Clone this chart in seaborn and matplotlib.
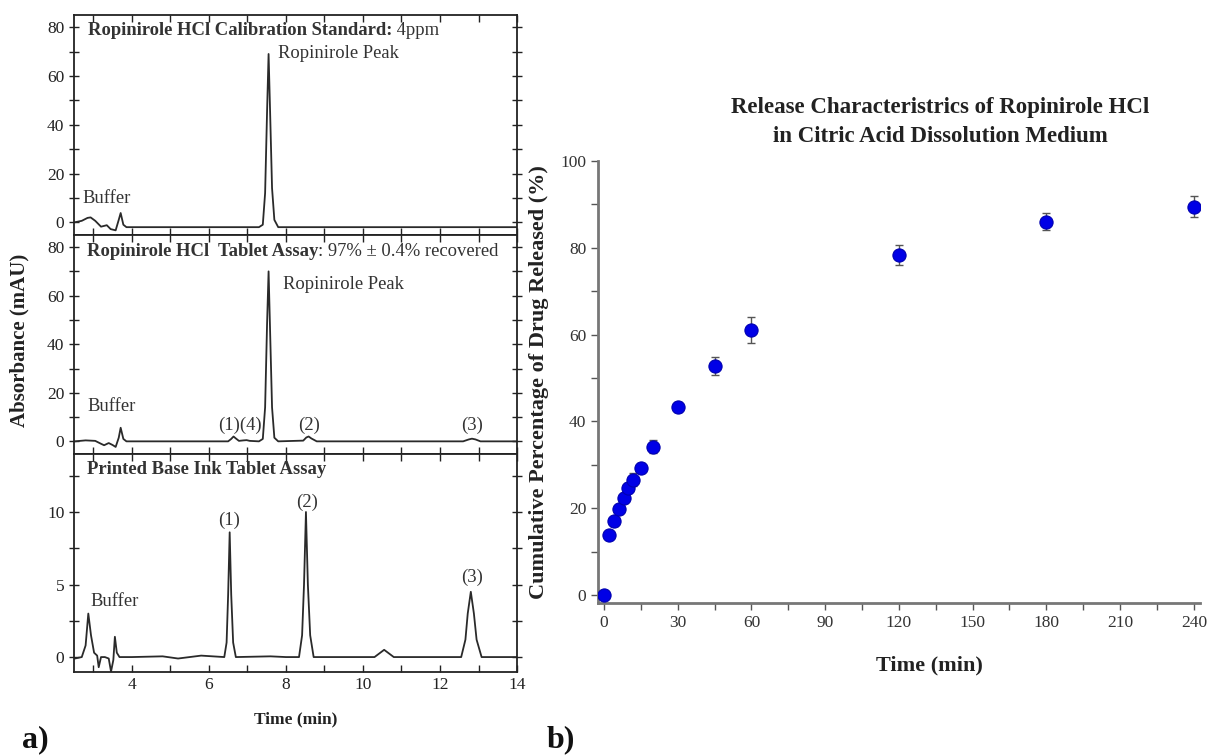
import numpy as np
import pandas as pd
import seaborn as sns
import matplotlib
matplotlib.use("Agg")
from matplotlib import pyplot as plt
from matplotlib.ticker import MultipleLocator

# ---- chromatogram traces (time min, absorbance mAU)
cal_time = [2.52, 2.70, 2.85, 2.93, 3.05, 3.20, 3.35, 3.45, 3.58, 3.66, 3.71, 3.78, 3.86,
            7.30, 7.40, 7.46, 7.51, 7.55, 7.59, 7.64, 7.70, 7.80, 14.0]
cal_abs = [0.0, 0.6, 1.8, 2.0, 0.6, -1.8, -1.2, -2.8, -3.3, 1.0, 3.8, -1.0, -2.0,
           -2.0, -1.0, 12.0, 45.0, 69.0, 45.0, 14.0, 1.0, -2.0, -2.0]

tab_time = [2.52, 2.80, 3.05, 3.20, 3.28, 3.40, 3.50, 3.58, 3.66, 3.71, 3.78, 3.86,
            6.50, 6.58, 6.64, 6.70, 6.78, 6.90, 6.98, 7.06, 7.30, 7.40, 7.46, 7.51,
            7.55, 7.59, 7.64, 7.70, 7.80, 8.45, 8.53, 8.59, 8.66, 8.80,
            12.60, 12.75, 12.83, 12.92, 13.05, 14.0]
tab_abs = [0.0, 0.4, 0.2, -1.0, -1.6, -0.7, -1.5, -2.3, 1.5, 5.6, 1.0, 0.0,
           0.0, 1.0, 2.0, 1.2, 0.2, 0.4, 0.5, 0.2, 0.0, 1.0, 14.0, 48.0,
           70.0, 45.0, 14.0, 1.5, 0.0, 0.3, 1.6, 2.0, 1.2, 0.0,
           0.0, 0.8, 1.1, 0.8, 0.0, 0.0]

ink_time = [2.52, 2.70, 2.80, 2.87, 2.94, 3.02, 3.10, 3.14, 3.20, 3.30, 3.40, 3.46,
            3.52, 3.56, 3.61, 3.68, 4.0, 4.8, 5.2, 5.8, 6.40, 6.46, 6.50, 6.54,
            6.58, 6.63, 6.70, 7.6, 8.0, 8.34, 8.42, 8.47, 8.52, 8.57, 8.63, 8.72,
            9.5, 10.30, 10.45, 10.55, 10.65, 10.80, 12.55, 12.66, 12.72, 12.80,
            12.88, 12.95, 13.08, 14.0]
ink_abs = [-0.1, 0.0, 0.8, 3.0, 1.5, 0.3, 0.1, -0.7, 0.0, 0.0, -0.1, -1.0,
           -0.2, 1.4, 0.3, 0.0, 0.0, 0.05, -0.1, 0.1, 0.0, 1.0, 4.3, 8.6,
           4.3, 1.0, 0.0, 0.05, 0.0, 0.0, 1.5, 5.0, 10.0, 5.0, 1.5, 0.0,
           0.0, 0.0, 0.3, 0.5, 0.3, 0.0, 0.0, 1.2, 3.0, 4.5,
           3.0, 1.2, 0.0, 0.0]

# ---- dissolution release data
rel_time = [0, 2, 4, 6, 8, 10, 12, 15, 20, 30, 45, 60, 120, 180, 240]
rel_pct = [0, 13.8, 17.0, 19.7, 22.4, 24.7, 26.5, 29.3, 34.2, 43.3, 52.8, 61.0, 78.4, 86.0, 89.5]
rel_err = [0.3, 1.0, 1.0, 1.0, 1.2, 1.2, 1.5, 1.0, 1.5, 1.2, 2.0, 3.0, 2.3, 2.0, 2.5]

sns.set_theme(style="ticks")
plt.rcParams['font.family'] = ['Liberation Serif', 'DejaVu Serif']

fig = plt.figure(figsize=(12.12, 7.56), dpi=100)
fig.patch.set_facecolor('white')

lx, lw = 0.0611, 0.3655
ax1 = fig.add_axes([lx, 0.6892, lw, 0.2910])
ax2 = fig.add_axes([lx, 0.3995, lw, 0.2897])
ax3 = fig.add_axes([lx, 0.1111, lw, 0.2884])
axr = fig.add_axes([0.4934, 0.2024, 0.4967, 0.5847])

trace_col = '#2a2a2a'
traces = [(ax1, cal_time, cal_abs), (ax2, tab_time, tab_abs), (ax3, ink_time, ink_abs)]
for ax, t, a in traces:
    df = pd.DataFrame({'t': t, 'a': a})
    sns.lineplot(data=df, x='t', y='a', ax=ax, color=trace_col, lw=1.3,
                 sort=False, estimator=None)
    ax.set_xlim(2.5, 14)
    ax.set_xlabel('')
    ax.set_ylabel('')
    ax.xaxis.set_major_locator(MultipleLocator(2))
    ax.xaxis.set_minor_locator(MultipleLocator(1))
    ax.tick_params(axis='x', which='both', direction='in', top=True, bottom=True,
                   length=5, width=1, colors='#222', labelsize=12.5)
    ax.tick_params(axis='y', which='both', direction='inout', left=True, right=True,
                   length=7, width=1, colors='#222', labelsize=12.5)
    for s in ax.spines.values():
        s.set_color('#222')
        s.set_linewidth(1.3)

for ax in (ax1, ax2):
    ax.set_ylim(-5.2, 85)
    ax.yaxis.set_major_locator(MultipleLocator(20))
    ax.yaxis.set_minor_locator(MultipleLocator(10))
    ax.tick_params(axis='x', labelbottom=False)
ax3.set_ylim(-1.03, 14)
ax3.yaxis.set_major_locator(MultipleLocator(5))
ax3.yaxis.set_minor_locator(MultipleLocator(2.5))
ax3.set_xticks([4, 6, 8, 10, 12, 14])

txt = dict(color='#333', fontsize=13.4)


def mixed_title(ax, x, y, bold, normal):
    b = ax.text(x, y, bold, fontweight='bold', va='center', ha='left', **txt)
    ax.annotate(normal, xy=(1, 0), xycoords=b, va='bottom', ha='left', **txt)


mixed_title(ax1, 2.86, 78.5, 'Ropinirole HCl Calibration Standard:', ' 4ppm')
ax1.text(7.8, 69.3, 'Ropinirole Peak', va='center', ha='left', **txt)
ax1.text(2.73, 9.7, 'Buffer', va='center', ha='left', **txt)

mixed_title(ax2, 2.83, 78, 'Ropinirole HCl  Tablet Assay', ': 97% \u00b1 0.4% recovered')
ax2.text(7.93, 64.4, 'Ropinirole Peak', va='center', ha='left', **txt)
ax2.text(2.86, 14.4, 'Buffer', va='center', ha='left', **txt)
ax2.text(6.81, 6.5, '(1)(4)', va='center', ha='center', **txt)
ax2.text(8.6, 6.5, '(2)', va='center', ha='center', **txt)
ax2.text(12.83, 6.5, '(3)', va='center', ha='center', **txt)

ax3.text(2.83, 12.9, 'Printed Base Ink Tablet Assay', fontweight='bold', va='center', ha='left', **txt)
ax3.text(2.92, 3.8, 'Buffer', va='center', ha='left', **txt)
ax3.text(6.52, 9.45, '(1)', va='center', ha='center', **txt)
ax3.text(8.55, 10.7, '(2)', va='center', ha='center', **txt)
ax3.text(12.83, 5.5, '(3)', va='center', ha='center', **txt)

ax3.set_xlabel('Time (min)', fontweight='bold', fontsize=12.5, color='#222', labelpad=13)
fig.text(0.016, 0.55, 'Absorbance (mAU)', rotation=90, fontweight='bold',
         fontsize=15, color='#222', ha='center', va='center')

# ---- right panel: release profile
rel = pd.DataFrame({'time': rel_time, 'pct': rel_pct, 'err': rel_err})
axr.errorbar(rel.time, rel.pct, yerr=rel.err, fmt='none', ecolor='#555',
             elinewidth=1, capsize=3, capthick=1, zorder=2)
sns.scatterplot(data=rel, x='time', y='pct', ax=axr, color='#0000e6', s=90,
                edgecolor='#0000b0', linewidth=0.8, zorder=3)
axr.set_xlim(-2.4, 242.5)
axr.set_ylim(-1.84, 100)
axr.xaxis.set_major_locator(MultipleLocator(30))
axr.xaxis.set_minor_locator(MultipleLocator(15))
axr.yaxis.set_major_locator(MultipleLocator(20))
axr.yaxis.set_minor_locator(MultipleLocator(10))
axr.tick_params(which='both', direction='out', length=5, width=1, colors='#555',
                labelsize=12.5, labelcolor='#333')
sns.despine(ax=axr)
for s in ('left', 'bottom'):
    axr.spines[s].set_color('#777')
    axr.spines[s].set_linewidth(2)
axr.set_xlabel('Time (min)', fontweight='bold', fontsize=16, color='#222', labelpad=18)
axr.xaxis.set_label_coords(0.551, -0.118)
axr.set_ylabel('Cumulative Percentage of Drug Released (%)', fontweight='bold',
               fontsize=16, color='#222', labelpad=8)
axr.set_title('Release Characteristrics of Ropinirole HCl\nin Citric Acid Dissolution Medium',
              fontweight='bold', fontsize=16.5, color='#222', pad=14, linespacing=1.45,
              x=0.568)

fig.text(0.029, 0.003, 'a)', fontweight='bold', fontsize=23, color='#111', ha='center', va='bottom')
fig.text(0.463, 0.003, 'b)', fontweight='bold', fontsize=23, color='#111', ha='center', va='bottom')

fig.savefig('out.png', dpi=100)
